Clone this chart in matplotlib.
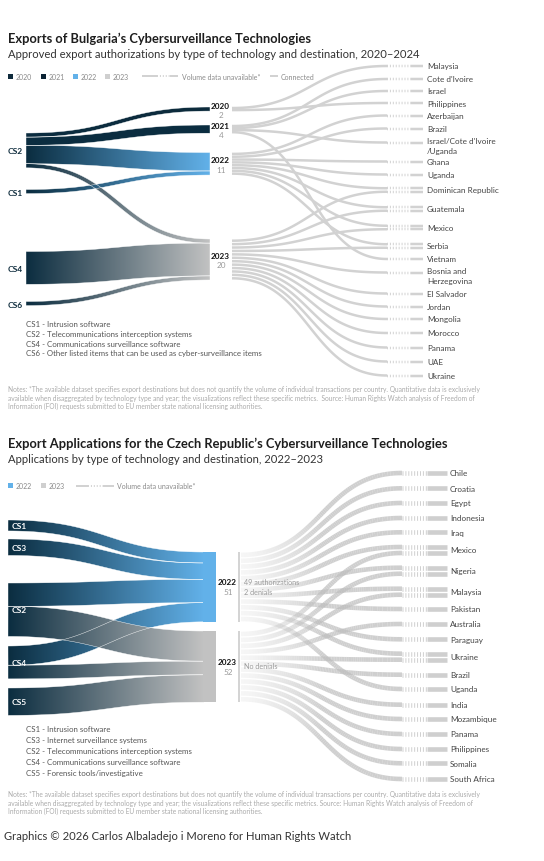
import numpy as np
import matplotlib
matplotlib.use('Agg')
import matplotlib.pyplot as plt
from matplotlib.patches import Polygon, Rectangle
from matplotlib.collections import LineCollection
from matplotlib import font_manager as fm
from matplotlib.colors import to_rgb, to_rgba

# ---------------- data: Bulgaria ----------------
bg_sources = ['CS2', 'CS1', 'CS4', 'CS6']
bg_years = ['2020', '2021', '2022', '2023']
bg_year_counts = [2, 4, 11, 20]
bg_flow_src = ['CS2', 'CS2', 'CS2', 'CS2', 'CS1', 'CS4', 'CS6']
bg_flow_year = ['2020', '2021', '2022', '2023', '2022', '2023', '2023']
bg_flow_val = [2, 4, 9, 2, 2, 16, 2]
bg_countries = ['Malaysia', "Cote d'Ivoire", 'Israel', 'Philippines', 'Azerbaijan', 'Brazil',
                "Israel/Cote d'Ivoire\n/Uganda", 'Ghana', 'Uganda', 'Dominican Republic',
                'Guatemala', 'Mexico', 'Serbia', 'Vietnam', 'Bosnia and\nHerzegovina',
                'El Salvador', 'Jordan', 'Mongolia', 'Morocco', 'Panama', 'UAE', 'Ukraine']
bg_dest_2020 = ['Malaysia', 'Philippines']
bg_dest_2021 = ["Cote d'Ivoire", 'Israel', "Israel/Cote d'Ivoire\n/Uganda", 'Vietnam']
bg_dest_2022 = ['Azerbaijan', 'Brazil', 'Ghana', 'Uganda', 'Dominican Republic',
                'Guatemala', 'Mexico', 'Serbia']
bg_dest_2023 = ['Dominican Republic', 'Guatemala', 'Mexico', 'Serbia', 'Bosnia and\nHerzegovina',
                'El Salvador', 'Jordan', 'Mongolia', 'Morocco', 'Panama', 'UAE', 'Ukraine']
bg_defs = ['CS1 - Intrusion software',
           'CS2 - Telecommunications interception systems',
           'CS4 - Communications surveillance software',
           'CS6 - Other listed items that can be used as cyber-surveillance items']

# ---------------- data: Czech Republic ----------------
cz_sources = ['CS1', 'CS3', 'CS2', 'CS4', 'CS5']
cz_years = ['2022', '2023']
cz_year_counts = [51, 52]
cz_year_notes = ['49 authorizations\n2 denials', 'No denials']
cz_flow_src = ['CS1', 'CS3', 'CS2', 'CS4', 'CS2', 'CS4', 'CS5']
cz_flow_year = ['2022', '2022', '2022', '2022', '2023', '2023', '2023']
cz_flow_val = [8, 12, 17, 14, 22, 10, 20]
cz_countries = ['Chile', 'Croatia', 'Egypt', 'Indonesia', 'Iraq', 'Mexico', 'Nigeria', 'Malaysia',
                'Pakistan', 'Australia', 'Paraguay', 'Ukraine', 'Brazil', 'Uganda', 'India',
                'Mozambique', 'Panama', 'Philippines', 'Somalia', 'South Africa']
cz_dest_2022 = ['Chile', 'Croatia', 'Egypt', 'Indonesia', 'Iraq', 'Mexico', 'Nigeria', 'Malaysia',
                'Pakistan', 'Paraguay', 'Ukraine', 'Uganda']
cz_dest_2023 = ['Mexico', 'Nigeria', 'Malaysia', 'Australia', 'Ukraine', 'Brazil', 'India',
                'Mozambique', 'Panama', 'Philippines', 'Somalia', 'South Africa']
cz_defs = ['CS1 - Intrusion software',
           'CS3 - Internet surveillance systems',
           'CS2 - Telecommunications interception systems',
           'CS4 - Communications surveillance software',
           'CS5 - Forensic tools/investigative']

notes_bg = ['Notes: *The available dataset specifies export destinations but does not quantify the volume of individual transactions per country. Quantitative data is exclusively',
            'available when disaggregated by technology type and year; the visualizations reflect these specific metrics.  Source: Human Rights Watch analysis of Freedom of',
            'Information (FOI) requests submitted to EU member state national licensing authorities.']
notes_cz = [notes_bg[0], notes_bg[1].replace('.  S', '. S'), notes_bg[2]]

# ---------------- layout (pixels) ----------------
W, H = 544, 862
bg_scale = 2.05
bg_src_top = [134, 190.5, 252.5, 302.5]
bg_year_top = [108, 126, 153.5, 240]
bg_country_y = [67, 80, 92, 104, 116.5, 129.5, 143.5, 162.5, 175.5, 191, 210, 228.5, 247,
                260, 273.5, 294.5, 307.5, 320, 334, 348.5, 362.5, 376.5]
cz_scale = 1.37
cz_src_top = [521, 540, 584, 647, 689]
cz_year_top = [553, 632]
cz_country_y = [474, 489.3, 504, 519, 533.3, 551, 571.7, 592.7, 610, 625, 640.3, 657.7, 675.7,
                690, 705.7, 720, 735, 750, 764.3, 780]

NAVY = '#0b2d40'
BLUE = '#62b1e9'
GRAY = '#c2c2c2'
LINK = '#d2d2d2'


def has_font(name):
    try:
        fm.findfont(fm.FontProperties(family=name), fallback_to_default=False)
        return True
    except Exception:
        return False


NARROW = has_font('Liberation Sans Narrow')
FAM = 'Liberation Sans Narrow' if NARROW else 'Lato'
K = 0.95 if NARROW else 1.0
plt.rcParams['font.family'] = [FAM, 'DejaVu Sans']
plt.rcParams['lines.scale_dashes'] = False

fig = plt.figure(figsize=(W / 100, H / 100), dpi=100)
ax = fig.add_axes([0, 0, 1, 1])
ax.set_xlim(0, W)
ax.set_ylim(H, 0)
ax.set_autoscale_on(False)
ax.axis('off')


def px(v):
    return v * 0.72


def bez(x0, x1, y0, y1, n=120):
    t = np.linspace(0, 1, n)
    xm = (x0 + x1) / 2
    bx = (1 - t) ** 3 * x0 + 3 * (1 - t) ** 2 * t * xm + 3 * (1 - t) * t ** 2 * xm + t ** 3 * x1
    by = (1 - t) ** 3 * y0 + 3 * (1 - t) ** 2 * t * y0 + 3 * (1 - t) * t ** 2 * y1 + t ** 3 * y1
    return bx, by


def band(x0, x1, y0, y1, w, c0, c1, z=2):
    bx, by = bez(x0, x1, y0, y1)
    dx, dy = np.gradient(bx), np.gradient(by)
    L = np.hypot(dx, dy)
    nx, ny = -dy / L, dx / L
    top = np.column_stack([bx + nx * w / 2, by + ny * w / 2])
    bot = np.column_stack([bx - nx * w / 2, by - ny * w / 2])
    poly = np.vstack([top, bot[::-1]])
    patch = Polygon(poly, closed=True, facecolor='none', edgecolor='none')
    ax.add_patch(patch)
    t = np.linspace(0, 1, 256)[:, None]
    rgb = (1 - t) * np.array(to_rgb(c0)) + t * np.array(to_rgb(c1))
    im = ax.imshow(rgb[None, :, :], extent=(x0, x1, poly[:, 1].max() + 1, poly[:, 1].min() - 1),
                   aspect='auto', interpolation='bilinear', zorder=z)
    im.set_clip_path(patch)
    ax.add_patch(Polygon(poly, closed=True, facecolor='none', edgecolor='white', lw=0.3, zorder=z + 0.1))


def sankey_left(sources, years, src_top, yr_top, fsrc, fyr, fval, scale, x0, x1, ycols):
    st = dict(zip(sources, src_top))
    yt = dict(zip(years, yr_top))
    idx = range(len(fval))
    ly, ry = {}, {}
    for s in sources:
        y = st[s]
        for i in sorted([i for i in idx if fsrc[i] == s], key=lambda i: yt[fyr[i]]):
            ly[i] = y + fval[i] * scale / 2
            y += fval[i] * scale
    for yr in years:
        y = yt[yr]
        for i in sorted([i for i in idx if fyr[i] == yr], key=lambda i: st[fsrc[i]]):
            ry[i] = y + fval[i] * scale / 2
            y += fval[i] * scale
    for i in idx:
        band(x0, x1, ly[i], ry[i], fval[i] * scale, NAVY, ycols[fyr[i]])


def gray_links(years, yr_top, counts, scale, dests, countries, cy, xs, xe, xd, xsol,
               lw, spread, ramp=False):
    cmap = dict(zip(countries, cy))
    starts = []
    for yr, top, cnt in zip(years, yr_top, counts):
        h = cnt * scale
        lst = sorted(dests[yr], key=lambda c: cmap[c])
        for k, c in enumerate(lst):
            starts.append((top + (k + 0.5) * h / len(lst), c))
    ends = {}
    for c in countries:
        ss = sorted([s for s, cc in starts if cc == c])
        m = len(ss)
        for j, s in enumerate(ss):
            ends[(s, c)] = cmap[c] + (j - (m - 1) / 2) * spread
    for s, c in starts:
        ye = ends[(s, c)]
        bx, by = bez(xs, xe, s, ye, 80)
        if ramp:
            pts = np.column_stack([bx, by])
            segs = np.stack([pts[:-1], pts[1:]], axis=1)
            tt = np.linspace(0, 1, len(segs))
            al = np.clip(0.12 + tt / 0.5 * 0.6, 0, 0.72)
            cols = [to_rgba('#bdbdbd', a) for a in al]
            ax.add_collection(LineCollection(segs, colors=cols, linewidths=px(lw), capstyle='butt', zorder=3))
            col, a = '#bdbdbd', 0.72
        else:
            ax.plot(bx, by, color=LINK, lw=px(lw), solid_capstyle='butt', zorder=3)
            col, a = LINK, 1
        ax.plot([xe, xd], [ye, ye], color=col, alpha=a, lw=px(lw), ls=(0, (0.7, 1.4)), zorder=3)
        ax.plot([xd, xsol], [ye, ye], color=col, alpha=a, lw=px(lw), solid_capstyle='butt', zorder=3)


def txt(x, y, s, size, color='#333333', weight='normal', **kw):
    ax.text(x, y, s, fontsize=size * K, color=color, fontweight=weight, va='center', **kw)


# ================= Bulgaria =================
txt(8, 39, "Exports of Bulgaria\u2019s Cybersurveillance Technologies", 9.3, '#1e1e1e', 'bold')
txt(8, 55, 'Approved export authorizations by type of technology and destination, 2020\u20132024', 8.15, '#333333')

leg_cols = ['#0e2a3b', '#0a2233', BLUE, '#cfcfcf']
for xx, yr, c in zip([8, 41, 73, 105], bg_years, leg_cols):
    ax.add_patch(Rectangle((xx, 74.5), 5, 5, color=c, lw=0))
    txt(xx + 8, 77.3, yr, 5.0, '#8a8a8a')
ax.plot([142, 157], [77, 77], color=LINK, lw=px(2), solid_capstyle='butt')
ax.plot([157, 170], [77, 77], color=LINK, lw=px(2), ls=(0, (0.7, 1.4)))
ax.plot([170, 178], [77, 77], color=LINK, lw=px(2), solid_capstyle='butt')
txt(182, 77.3, 'Volume data unavailable*', 5.0, '#8a8a8a')
ax.plot([270, 278], [77, 77], color=LINK, lw=px(2), solid_capstyle='butt')
txt(281, 77.3, 'Connected', 5.0, '#8a8a8a')

bg_ycols = dict(zip(bg_years, ['#0d2b3c', '#0b2d40', BLUE, GRAY]))
sankey_left(bg_sources, bg_years, bg_src_top, bg_year_top, bg_flow_src, bg_flow_year,
            bg_flow_val, bg_scale, 26, 210, bg_ycols)

for s, top in zip(bg_sources, bg_src_top):
    tot = sum(v for ss, v in zip(bg_flow_src, bg_flow_val) if ss == s)
    txt(8, top + tot * bg_scale / 2 + 0.5, s, 6.0, '#0d2b3c', 'bold')
for yr, top, cnt in zip(bg_years, bg_year_top, bg_year_counts):
    c = top + cnt * bg_scale / 2
    txt(211, c - 4, yr, 5.9, '#111111', 'bold')
    txt(221, c + 5.5, str(cnt), 5.9, '#9a9a9a', ha='center')

bg_dests = {'2020': bg_dest_2020, '2021': bg_dest_2021, '2022': bg_dest_2022, '2023': bg_dest_2023}
gray_links(bg_years, bg_year_top, bg_year_counts, bg_scale, bg_dests, bg_countries, bg_country_y,
           232, 387, 411, 423, 2.5, 3.5)
for c, y in zip(bg_countries, bg_country_y):
    off = 3 if '\n' in c else 0
    txt(427, y + off, c, 5.9, '#444444', linespacing=1.35)

for k, d in enumerate(bg_defs):
    txt(26, 325 + k * 9.6, d, 5.65, '#555555')
for k, n in enumerate(notes_bg):
    txt(8, 390 + k * 8.4, n, 4.75, '#aaaaaa')

# ================= Czech Republic =================
txt(8, 444, "Export Applications for the Czech Republic\u2019s Cybersurveillance Technologies", 9.3, '#1e1e1e', 'bold')
txt(8, 460, 'Applications by type of technology and destination, 2022\u20132023', 8.15, '#333333')

for xx, yr, c in zip([8, 41], cz_years, [BLUE, '#cfcfcf']):
    ax.add_patch(Rectangle((xx, 484.3), 5, 5, color=c, lw=0))
    txt(xx + 8, 487, yr, 5.0, '#8a8a8a')
ax.plot([76, 88], [487, 487], color=LINK, lw=px(2), solid_capstyle='butt')
ax.plot([88, 103], [487, 487], color=LINK, lw=px(2), ls=(0, (0.7, 1.4)))
ax.plot([103, 114], [487, 487], color=LINK, lw=px(2), solid_capstyle='butt')
txt(117, 487, 'Volume data unavailable*', 5.0, '#8a8a8a')

cz_ycols = dict(zip(cz_years, [BLUE, GRAY]))
sankey_left(cz_sources, cz_years, cz_src_top, cz_year_top, cz_flow_src, cz_flow_year,
            cz_flow_val, cz_scale, 8, 204, cz_ycols)
for yr, top, cnt in zip(cz_years, cz_year_top, cz_year_counts):
    ax.add_patch(Rectangle((203, top), 13, cnt * cz_scale, color=cz_ycols[yr], lw=0, zorder=4))
    ax.add_patch(Rectangle((238, top), 2, cnt * cz_scale, color='#d4d4d4', lw=0, zorder=4))

for s, top in zip(cz_sources, cz_src_top):
    tot = sum(v for ss, v in zip(cz_flow_src, cz_flow_val) if ss == s)
    txt(12, top + tot * cz_scale / 2, s, 6.0, 'white', 'bold', zorder=6)
for yr, top, cnt, note in zip(cz_years, cz_year_top, cz_year_counts, cz_year_notes):
    c = top + cnt * cz_scale / 2
    txt(218, c - 5.3, yr, 5.9, '#111111', 'bold')
    txt(228, c + 4.5, str(cnt), 5.9, '#9a9a9a', ha='center')
    lines = note.split('\n')
    for j, ln in enumerate(lines):
        yy = c - 5.3 + j * 9.5 if len(lines) > 1 else c - 1.5
        txt(244, yy, ln, 5.2, '#9a9a9a', zorder=6)

cz_dests = {'2022': cz_dest_2022, '2023': cz_dest_2023}
gray_links(cz_years, cz_year_top, cz_year_counts, cz_scale, cz_dests, cz_countries, cz_country_y,
           241, 402, 427, 447, 4.6, 6.0, ramp=True)
for c, y in zip(cz_countries, cz_country_y):
    txt(450, y, c, 5.9, '#444444')

for k, d in enumerate(cz_defs):
    txt(26, 730 + k * 11, d, 5.65, '#555555')
for k, n in enumerate(notes_cz):
    txt(8, 795 + k * 8.4, n, 4.75, '#aaaaaa')

txt(4, 837, 'Graphics \u00a9 2026 Carlos Albaladejo i Moreno for Human Rights Watch', 8.1, '#333333')

ax.set_xlim(0, W)
ax.set_ylim(H, 0)
fig.savefig('out.png', dpi=100)
